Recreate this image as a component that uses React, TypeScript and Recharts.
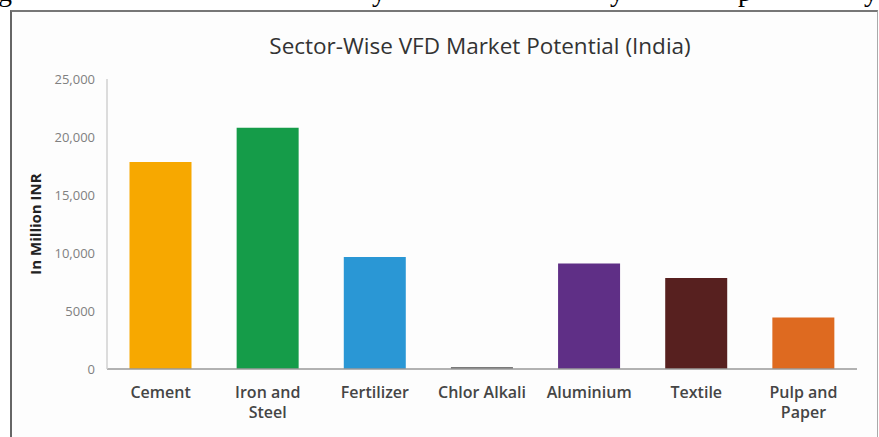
import { BarChart, Bar, Cell, XAxis, YAxis } from "recharts";

const sectors = [
  "Cement",
  "Iron and Steel",
  "Fertilizer",
  "Chlor Alkali",
  "Aluminium",
  "Textile",
  "Pulp and Paper",
];
const potential = [17850, 20800, 9650, 180, 9100, 7850, 4450];
const barColors = ["#F7A800", "#159C49", "#2A97D5", "#7a7a7a", "#5F2F86", "#57201F", "#DE6A20"];

const yTicks = [0, 5000, 10000, 15000, 20000, 25000];
const yTickLabels = ["0", "5000", "10,000", "15,000", "20,000", "25,000"];

const data = sectors.map((name, i) => ({ name, value: potential[i] }));

const FONT = "'Open Sans', Lato, sans-serif";

// "Iron and Steel" -> ["Iron and", "Steel"]
function splitLabel(s: string) {
  if (s.includes(" and ")) {
    const k = s.lastIndexOf(" ");
    return [s.slice(0, k), s.slice(k + 1)];
  }
  return [s];
}

function CategoryTick(props: any) {
  const { x, y, payload } = props;
  const lines = splitLabel(payload.value);
  return (
    <g transform={`translate(${x},${y})`}>
      <text
        textAnchor="middle"
        fill="#454545"
        fontFamily={FONT}
        fontSize={16}
        fontWeight={600}
      >
        {lines.map((l, i) => (
          <tspan key={i} x={0} dy={i === 0 ? 21 : 20}>
            {l}
          </tspan>
        ))}
      </text>
    </g>
  );
}

export default function App() {
  return (
    <div
      style={{
        position: "fixed",
        left: 0,
        top: 0,
        width: 879,
        height: 437,
        background: "#fff",
        overflow: "hidden",
      }}
    >
      {/* tail of the document line above the figure */}
      <div
        style={{
          position: "absolute",
          left: 0,
          top: 0,
          width: 879,
          height: 10,
          overflow: "hidden",
          fontFamily: "'Liberation Serif', serif",
          fontSize: 28,
          color: "#000",
        }}
      >
        {[
          ["g", -2],
          ["y", 372],
          ["y", 610],
          ["p", 738],
          ["y", 864],
        ].map(([ch, left], i) => (
          <span
            key={i}
            style={{ position: "absolute", left: left as number, top: -24 }}
          >
            {ch}
          </span>
        ))}
      </div>

      <div
        style={{
          position: "absolute",
          left: 10,
          top: 10,
          width: 865,
          height: 440,
          borderLeft: "2px solid #666",
          borderTop: "2px solid #777",
          borderRight: "1px solid #aaa",
          background: "#fdfdfd",
        }}
      />

      <div
        style={{
          position: "absolute",
          left: 80,
          top: 30,
          width: 800,
          textAlign: "center",
          fontFamily: FONT,
          fontSize: 22.5,
          fontWeight: 500,
          color: "#333",
        }}
      >
        Sector-Wise VFD Market Potential (India)
      </div>

      <div style={{ position: "absolute", left: 0, top: 0 }}>
        <BarChart
          width={879}
          height={437}
          data={data}
          margin={{ top: 79, right: 22, bottom: 8, left: 0 }}
          barCategoryGap="21%"
        >
          <XAxis
            dataKey="name"
            height={60}
            interval={0}
            tickLine={false}
            axisLine={{ stroke: "#999", strokeWidth: 1.5 }}
            tick={<CategoryTick />}
          />
          <YAxis
            width={107}
            domain={[0, 25000]}
            ticks={yTicks}
            tickLine={false}
            tickSize={6}
            tickMargin={6}
            axisLine={{ stroke: "#d0d0d0", strokeWidth: 1.5 }}
            tickFormatter={(v: number) => yTickLabels[yTicks.indexOf(v)] ?? String(v)}
            tick={{ fill: "#808080", fontSize: 13, fontFamily: FONT }}
            label={{
              value: "In Million INR",
              angle: -90,
              position: "insideLeft",
              offset: 32,
              dx: 4,
              style: {
                textAnchor: "middle",
                fontFamily: FONT,
                fontWeight: 700,
                fontSize: 15,
                fill: "#222",
              },
            }}
          />
          <Bar dataKey="value" isAnimationActive={false}>
            {data.map((_, i) => (
              <Cell key={i} fill={barColors[i]} />
            ))}
          </Bar>
        </BarChart>
      </div>
    </div>
  );
}
